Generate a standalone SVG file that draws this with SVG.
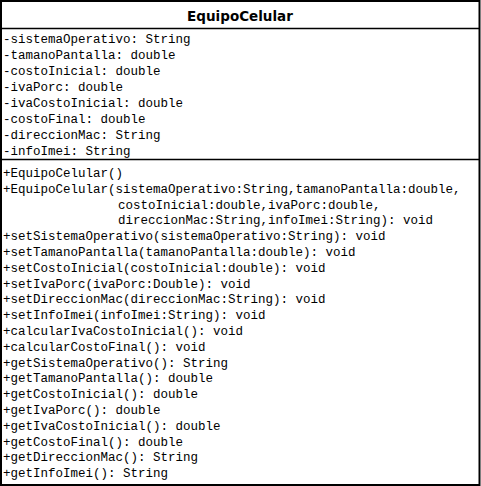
<svg xmlns="http://www.w3.org/2000/svg" width="481" height="486" viewBox="0 0 481 486">
<style>
.box{fill:#fff;stroke:#000;stroke-width:2}
.sep{stroke:#000;stroke-width:1.6}
.title{font-family:"DejaVu Sans",Verdana,sans-serif;font-weight:bold;font-size:13.5px;fill:#000}
.m{font-family:"Liberation Mono","Courier New",monospace;font-size:12.5px;fill:#000}
</style>
<rect width="481" height="486" fill="#fff"/>
<g id="EquipoCelular">
<rect class="box" x="1" y="1" width="478.5" height="484"/>
<line class="sep" x1="1" y1="28.5" x2="480" y2="28.5"/>
<line class="sep" x1="1" y1="159.5" x2="480" y2="159.5"/>
<text class="title" x="240" y="21" text-anchor="middle">EquipoCelular</text>
<text class="m" x="3" y="43">-sistemaOperativo: String</text>
<text class="m" x="3" y="59">-tamanoPantalla: double</text>
<text class="m" x="3" y="75">-costoInicial: double</text>
<text class="m" x="3" y="91">-ivaPorc: double</text>
<text class="m" x="3" y="107">-ivaCostoInicial: double</text>
<text class="m" x="3" y="123">-costoFinal: double</text>
<text class="m" x="3" y="139">-direccionMac: String</text>
<text class="m" x="3" y="155">-infoImei: String</text>
<text class="m" x="3" y="177">+EquipoCelular()</text>
<text class="m" x="3" y="192.8">+EquipoCelular(sistemaOperativo:String,tamanoPantalla:double,</text>
<text class="m" x="118" y="208.6">costoInicial:double,ivaPorc:double,</text>
<text class="m" x="118" y="224.4">direccionMac:String,infoImei:String): void</text>
<text class="m" x="3" y="240.2">+setSistemaOperativo(sistemaOperativo:String): void</text>
<text class="m" x="3" y="256">+setTamanoPantalla(tamanoPantalla:double): void</text>
<text class="m" x="3" y="271.8">+setCostoInicial(costoInicial:double): void</text>
<text class="m" x="3" y="287.6">+setIvaPorc(ivaPorc:Double): void</text>
<text class="m" x="3" y="303.4">+setDireccionMac(direccionMac:String): void</text>
<text class="m" x="3" y="319.2">+setInfoImei(infoImei:String): void</text>
<text class="m" x="3" y="335">+calcularIvaCostoInicial(): void</text>
<text class="m" x="3" y="350.8">+calcularCostoFinal(): void</text>
<text class="m" x="3" y="366.6">+getSistemaOperativo(): String</text>
<text class="m" x="3" y="382.4">+getTamanoPantalla(): double</text>
<text class="m" x="3" y="398.2">+getCostoInicial(): double</text>
<text class="m" x="3" y="414">+getIvaPorc(): double</text>
<text class="m" x="3" y="429.8">+getIvaCostoInicial(): double</text>
<text class="m" x="3" y="445.6">+getCostoFinal(): double</text>
<text class="m" x="3" y="461.4">+getDireccionMac(): String</text>
<text class="m" x="3" y="477.2">+getInfoImei(): String</text>
</g>
<g id="connectors"/>
</svg>
